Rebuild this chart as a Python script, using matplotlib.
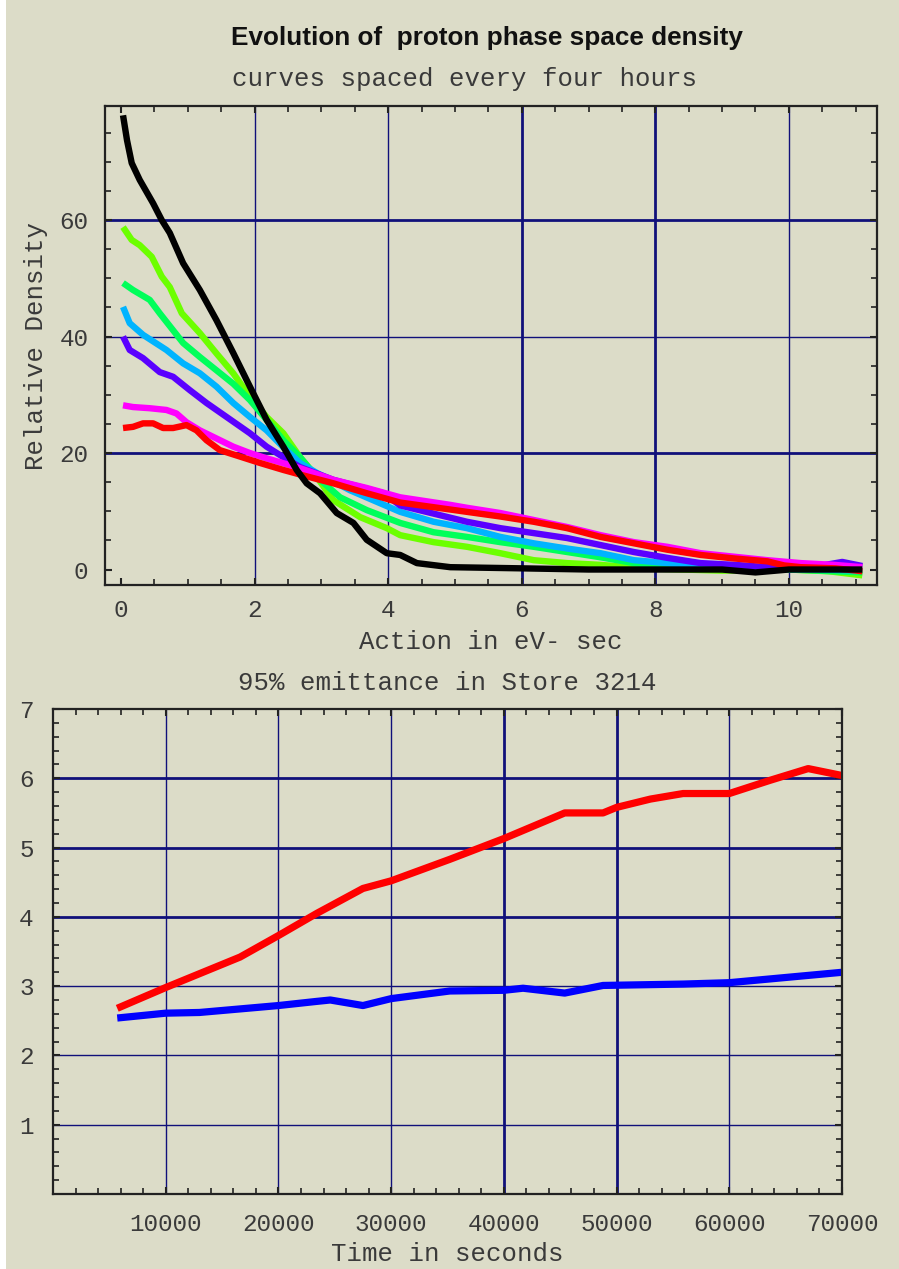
import matplotlib
matplotlib.use('Agg')
from matplotlib import pyplot as plt
from matplotlib.ticker import MultipleLocator, FixedLocator
from matplotlib.patches import Rectangle

# --- top chart: relative density vs action (curves every four hours) ---
x_black = [0.03, 0.09, 0.16, 0.28, 0.48, 0.61, 0.73, 0.93, 1.18, 1.43, 1.68, 1.93, 2.18, 2.43,
           2.63, 2.78, 2.98, 3.23, 3.48, 3.68, 3.98, 4.18, 4.43, 4.93, 6.0, 7.0, 8.0, 9.0, 9.5, 10.0, 11.1]
y_black = [78.0, 73.7, 69.8, 66.9, 62.9, 60.0, 57.8, 52.6, 48.0, 42.8, 37.2, 31.4, 25.7, 21.1,
           17.1, 14.8, 13.1, 9.7, 8.0, 5.1, 2.8, 2.5, 1.1, 0.4, 0.2, 0.0, 0.0, 0.0, -0.5, 0.0, 0.0]

x_lime = [0.03, 0.16, 0.28, 0.46, 0.61, 0.73, 0.91, 1.18, 1.43, 1.68, 1.93, 2.18, 2.43, 2.68, 2.93,
          3.18, 3.58, 3.98, 4.18, 4.68, 5.18, 5.68, 6.18, 6.68, 7.18, 7.8, 9.0, 10.0, 10.6, 11.1]
y_lime = [58.8, 56.6, 55.7, 53.7, 50.3, 48.5, 44.0, 40.6, 37.1, 33.7, 29.7, 26.2, 23.4, 19.3, 15.9,
          11.9, 9.0, 7.1, 5.9, 4.7, 3.9, 2.8, 1.6, 1.1, 0.8, 0.2, -0.2, 0.0, -0.3, -1.0]

x_spring = [0.03, 0.18, 0.43, 0.58, 0.93, 1.18, 1.43, 1.68, 1.93, 2.18, 2.43, 2.68, 2.93, 3.28,
            3.68, 4.18, 4.68, 5.18, 5.68, 6.18, 6.68, 7.18, 7.68, 8.18, 9.0, 10.0, 11.1]
y_spring = [49.2, 48.0, 46.3, 44.0, 38.9, 36.5, 34.2, 31.9, 29.1, 25.7, 22.2, 19.3, 15.9, 12.4,
            10.2, 8.0, 6.4, 5.6, 4.7, 3.9, 3.0, 2.1, 1.1, 0.4, 0.1, 0.0, -0.5]

x_sky = [0.03, 0.13, 0.33, 0.68, 0.93, 1.18, 1.43, 1.68, 1.93, 2.18, 2.43, 2.68, 2.93, 3.43,
         4.18, 4.68, 5.18, 5.68, 6.18, 6.68, 7.18, 7.68, 8.18, 8.68, 9.5, 10.5, 11.1]
y_sky = [45.1, 42.3, 40.3, 37.7, 35.4, 33.7, 31.4, 28.6, 26.2, 23.9, 21.0, 18.3, 16.6, 13.6,
         9.9, 8.2, 7.1, 5.6, 4.5, 3.6, 2.8, 1.6, 1.1, 0.4, 0.1, 0.0, -0.2]

x_violet = [0.03, 0.13, 0.33, 0.58, 0.78, 1.03, 1.28, 1.58, 1.93, 2.18, 2.43, 2.68, 3.18, 3.93,
            4.18, 5.18, 5.68, 6.68, 7.68, 8.18, 8.68, 9.18, 9.68, 10.3, 10.8, 11.1]
y_violet = [40.0, 37.7, 36.3, 33.9, 33.1, 30.8, 28.6, 26.2, 23.4, 21.1, 19.3, 17.6, 15.4, 13.1,
            11.0, 8.2, 7.1, 5.4, 3.0, 2.0, 1.1, 0.8, 0.4, 0.3, 1.3, 0.6]

x_magenta = [0.03, 0.18, 0.43, 0.68, 0.83, 0.98, 1.18, 1.43, 1.68, 1.93, 2.18, 2.68, 3.18, 3.68,
             4.18, 4.93, 5.18, 5.68, 6.18, 6.68, 7.18, 7.68, 8.18, 8.68, 9.18, 9.68, 10.18, 10.68, 11.1]
y_magenta = [28.2, 27.9, 27.7, 27.4, 26.8, 25.3, 23.9, 22.5, 21.1, 20.0, 19.1, 17.4, 15.4, 14.0,
             12.4, 11.1, 10.6, 9.7, 8.5, 7.3, 5.9, 4.7, 3.9, 2.8, 2.2, 1.6, 1.1, 0.8, 0.4]

x_red = [0.03, 0.18, 0.33, 0.48, 0.63, 0.78, 0.98, 1.13, 1.28, 1.48, 1.78, 2.08, 2.43, 2.78,
         3.18, 3.68, 4.18, 5.18, 5.68, 6.18, 6.68, 7.18, 7.68, 8.18, 8.68, 9.18, 9.68, 9.93,
         10.18, 10.7, 11.1]
y_red = [24.3, 24.5, 25.1, 25.1, 24.3, 24.3, 24.8, 23.9, 22.2, 20.5, 19.4, 18.3, 17.1, 16.0,
         14.8, 13.1, 11.5, 9.9, 9.1, 8.2, 7.1, 5.6, 4.5, 3.4, 2.5, 1.9, 1.4, 0.7,
         0.4, 0.2, -0.3]

top_curves = [
    (x_lime, y_lime, '#6cff00'),
    (x_spring, y_spring, '#00ff5a'),
    (x_sky, y_sky, '#00b4ff'),
    (x_violet, y_violet, '#5a00ff'),
    (x_magenta, y_magenta, '#ff00ff'),
    (x_red, y_red, '#ff0000'),
    (x_black, y_black, '#000000'),
]

# --- bottom chart: 95% emittance in Store 3214 ---
t_red = [5700, 10000, 16600, 20000, 23400, 27500, 30000, 35200, 40000, 45400, 48800, 50000,
         53000, 55900, 60000, 63600, 67000, 70000]
e_red = [2.68, 2.98, 3.42, 3.73, 4.05, 4.41, 4.52, 4.83, 5.13, 5.50, 5.50, 5.58,
         5.70, 5.78, 5.78, 5.97, 6.14, 6.04]

t_blue = [5700, 10000, 13000, 20000, 23400, 24600, 27500, 30000, 35200, 40000, 41700, 45400,
          48800, 55900, 60000, 70000]
e_blue = [2.54, 2.61, 2.62, 2.72, 2.78, 2.80, 2.72, 2.82, 2.93, 2.94, 2.97, 2.90,
          3.01, 3.03, 3.05, 3.20]

bg = '#dcdcc8'
grid_col = '#10107a'
mono = 'Liberation Mono'
txt_col = '#3a3a3a'

fig = plt.figure(figsize=(8.99, 12.69), dpi=100)
fig.patch.set_facecolor(bg)
fig.patches.append(Rectangle((0, 0), 6 / 899, 1, transform=fig.transFigure,
                             facecolor='white', edgecolor='none', zorder=-10))


def frame(ax):
    ax.set_facecolor(bg)
    for s in ax.spines.values():
        s.set_color('#222222')
        s.set_linewidth(1.6)
    ax.tick_params(which='both', direction='in', top=True, right=True, color='#222222',
                   labelcolor=txt_col, labelsize=17.5)
    ax.tick_params(which='major', length=5, width=1.5)
    ax.tick_params(which='minor', length=4, width=1.2)
    for lab in ax.get_xticklabels() + ax.get_yticklabels():
        lab.set_fontfamily(mono)


# top panel
ax1 = fig.add_axes([105 / 899, 1 - 585 / 1269, 772 / 899, 479 / 1269])
for xs, ys, c in top_curves:
    ax1.plot(xs, ys, color=c, lw=4.6, solid_capstyle='butt', solid_joinstyle='round')
ax1.set_xlim(-0.24, 11.32)
ax1.set_ylim(-2.66, 79.6)
ax1.xaxis.set_major_locator(FixedLocator([0, 2, 4, 6, 8, 10]))
ax1.xaxis.set_minor_locator(MultipleLocator(0.5))
ax1.yaxis.set_major_locator(FixedLocator([0, 20, 40, 60]))
ax1.yaxis.set_minor_locator(MultipleLocator(5))
for gx in [2, 4, 10]:
    ax1.axvline(gx, color=grid_col, lw=1.0, zorder=0)
for gx in [6, 8]:
    ax1.axvline(gx, color=grid_col, lw=2.0, zorder=0)
ax1.axhline(40, color=grid_col, lw=1.0, zorder=0)
for gy in [20, 60]:
    ax1.axhline(gy, color=grid_col, lw=2.0, zorder=0)
frame(ax1)
ax1.tick_params(axis='x', pad=10)
ax1.tick_params(axis='y', pad=12)
ax1.set_xlabel('Action in eV- sec', fontfamily=mono, fontsize=18.5, color=txt_col, labelpad=6)
ax1.set_ylabel('Relative Density', fontfamily=mono, fontsize=18.5, color=txt_col, labelpad=8)

fig.text(487 / 899, 1 - 38 / 1269, 'Evolution of  proton phase space density',
         ha='center', va='center', fontfamily='Liberation Sans', fontweight='bold',
         fontsize=18.8, color='#111111')
fig.text(464 / 899, 1 - 79 / 1269, 'curves spaced every four hours', ha='center', va='center',
         fontfamily=mono, fontsize=18.5, color=txt_col)

# bottom panel
ax2 = fig.add_axes([53 / 899, 1 - 1194 / 1269, 789 / 899, 485 / 1269])
ax2.plot(t_red, e_red, color='#ff0000', lw=5.2, solid_capstyle='butt')
ax2.plot(t_blue, e_blue, color='#0000ff', lw=5.2, solid_capstyle='butt')
ax2.set_xlim(0, 70000)
ax2.set_ylim(0, 7)
ax2.xaxis.set_major_locator(FixedLocator([10000, 20000, 30000, 40000, 50000, 60000, 70000]))
ax2.xaxis.set_minor_locator(MultipleLocator(2000))
ax2.yaxis.set_major_locator(FixedLocator([1, 2, 3, 4, 5, 6, 7]))
ax2.yaxis.set_minor_locator(MultipleLocator(0.2))
for gx in [10000, 20000, 30000, 60000]:
    ax2.axvline(gx, color=grid_col, lw=1.0, zorder=0)
for gx in [40000, 50000]:
    ax2.axvline(gx, color=grid_col, lw=2.0, zorder=0)
for gy in [1, 2, 3]:
    ax2.axhline(gy, color=grid_col, lw=1.0, zorder=0)
for gy in [4, 5, 6]:
    ax2.axhline(gy, color=grid_col, lw=2.0, zorder=0)
frame(ax2)
ax2.tick_params(axis='x', pad=14)
ax2.tick_params(axis='y', pad=14)
ax2.set_xlabel('Time in seconds', fontfamily=mono, fontsize=18.5, color=txt_col, labelpad=4)
ax2.set_title('95% emittance in Store 3214', fontfamily=mono, fontsize=18.5, color=txt_col,
              pad=14, x=(447 - 53) / 789)

fig.savefig('out.png', dpi=100, facecolor=fig.get_facecolor())
